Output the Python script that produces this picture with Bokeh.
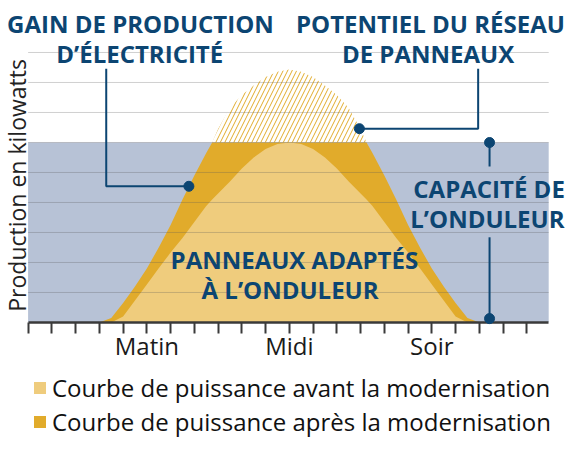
import math
from bokeh.plotting import figure
from bokeh.layouts import column
from bokeh.models import Range1d, FixedTicker, Label, Legend, LegendItem
from bokeh.embed import file_html
from bokeh.resources import INLINE

# ---------------- data ----------------
hours = [3.0, 3.5, 4.0, 4.5, 5.0, 5.5, 6.0, 6.5, 7.0, 7.5, 7.75,
         8.0, 8.5, 9.0, 9.5, 10.0, 10.5, 11.0, 11.5, 12.0, 12.5, 13.0, 13.5, 14.0,
         14.25, 14.5, 15.0, 15.5, 16.0, 16.5, 17.0, 17.5, 18.0, 18.5, 19.0]
potential = [0.0, 0.15, 0.65, 1.2, 1.8, 2.5, 3.25, 4.1, 4.9, 5.65, 6.0,
             6.45, 7.15, 7.58, 7.9, 8.18, 8.36, 8.43, 8.36, 8.18, 7.9, 7.58, 7.15, 6.45,
             6.0, 5.65, 4.9, 4.1, 3.25, 2.5, 1.8, 1.2, 0.65, 0.15, 0.0]
after = [0.0, 0.15, 0.65, 1.2, 1.8, 2.5, 3.25, 4.1, 4.9, 5.65, 6.0,
         6.0, 6.0, 6.0, 6.0, 6.0, 6.0, 6.0, 6.0, 6.0, 6.0, 6.0, 6.0, 6.0,
         6.0, 5.65, 4.9, 4.1, 3.25, 2.5, 1.8, 1.2, 0.65, 0.15, 0.0]
before = [0.0, 0.0, 0.2, 0.73, 1.27, 1.81, 2.33, 2.82, 3.35, 3.88, 4.1,
          4.3, 4.7, 5.13, 5.5, 5.78, 5.95, 6.0, 5.95, 5.78, 5.5, 5.13, 4.7, 4.3,
          4.1, 3.88, 3.35, 2.82, 2.33, 1.81, 1.27, 0.73, 0.2, 0.0, 0.0]
inverter_capacity = 6.0
hour_ticks = list(range(22))
tick_names = {5: "Matin", 11: "Midi", 17: "Soir"}
grid_levels = [1, 2, 3, 4, 5, 6, 7, 8, 9]
legend_labels = ["Courbe de puissance avant la modernisation",
                 "Courbe de puissance après la modernisation"]

# ---------------- style ----------------
BLUE = "#b7c2d6"
LIGHT = "#efcc7d"
DARK = "#e1ab2b"
NAVY = "#0c4572"
FONT = "Open Sans"
XMIN, XMAX = 0.0, 21.92
VIEW_X = (-1.162, 23.091)
VIEW_Y = (0.0, 10.733)
W = 576
H_TOP = 366
H_LEG = 85

p = figure(width=W, height=H_TOP, x_range=Range1d(*VIEW_X), y_range=Range1d(*VIEW_Y),
           output_backend="svg", toolbar_location=None,
           min_border_left=0, min_border_right=0, min_border_top=0, min_border_bottom=44)
p.outline_line_color = None
p.background_fill_color = "white"
p.border_fill_color = "white"

p.quad(left=XMIN, right=XMAX, bottom=0, top=inverter_capacity, fill_color=BLUE, line_color=None)
dark = p.varea(x=hours, y1=0, y2=after, fill_color=DARK)
light = p.varea(x=hours, y1=0, y2=before, fill_color=LIGHT)
p.varea(x=hours, y1=after, y2=potential, fill_color=None, fill_alpha=0,
        hatch_pattern="/", hatch_color=DARK, hatch_scale=9, hatch_weight=1)

# horizontal grid lines (drawn over the areas)
p.xgrid.visible = False
p.ygrid.visible = False
p.segment(x0=[XMIN] * len(grid_levels), x1=[XMAX] * len(grid_levels),
          y0=grid_levels, y1=grid_levels, line_color="#5a5a5a", line_alpha=0.28, line_width=1)

# axes
p.yaxis.visible = False
ax = p.xaxis[0]
ax.bounds = (XMIN, XMAX)
ax.ticker = FixedTicker(ticks=hour_ticks)
ax.major_label_overrides = {t: tick_names.get(t, "") for t in hour_ticks}
ax.axis_line_color = "#3a3a3a"
ax.axis_line_width = 2.5
ax.major_tick_line_color = "#3a3a3a"
ax.major_tick_line_width = 2
ax.major_tick_out = 11
ax.major_tick_in = 0
ax.minor_tick_line_color = None
ax.major_label_text_font = FONT
ax.major_label_text_font_size = "24px"
ax.major_label_text_color = "#1a1a1a"
ax.major_label_standoff = -5

# leader lines and dots
def leader(xs, ys):
    p.line(x=xs, y=ys, line_color=NAVY, line_width=2, level="annotation")

leader([3.29, 3.29, 6.77], [8.46, 4.54, 4.54])
leader([18.95, 18.95, 13.95], [8.46, 6.46, 6.46])
leader([19.43, 19.43], [6.0, 5.2])
leader([19.43, 19.43], [2.84, 0.13])
p.scatter(x=[6.77, 13.95, 19.43, 19.43], y=[4.54, 6.46, 6.0, 0.13], size=10,
          color=NAVY, level="annotation")

# annotation texts
def note(x, y, txt):
    p.add_layout(Label(x=x, y=y, text=txt, text_align="center", text_baseline="alphabetic",
                       text_font=FONT, text_font_style="bold", text_font_size="24px",
                       text_color=NAVY))

note(4.73, 9.96, "GAIN DE PRODUCTION")
note(4.70, 8.96, "D’ÉLECTRICITÉ")
note(16.94, 9.96, "POTENTIEL DU RÉSEAU")
note(16.84, 8.96, "DE PANNEAUX")
note(19.41, 4.48, "CAPACITÉ DE")
note(19.34, 3.48, "L’ONDULEUR")
note(11.21, 2.09, "PANNEAUX ADAPTÉS")
note(11.03, 1.09, "À L’ONDULEUR")

p.add_layout(Label(x=-0.47, y=4.57, text="Production en kilowatts", angle=math.pi / 2,
                   text_align="center", text_baseline="alphabetic",
                   text_font=FONT, text_font_size="23px", text_color="#222222"))

# ---------------- legend strip ----------------
q = figure(width=W, height=H_LEG, x_range=Range1d(0, 1), y_range=Range1d(0, 1),
           output_backend="svg", toolbar_location=None,
           min_border_left=0, min_border_right=0, min_border_top=0, min_border_bottom=0)
q.axis.visible = False
q.grid.visible = False
q.outline_line_color = None
q.border_fill_color = "white"
sw_light = q.varea(x=[0, 1], y1=[0, 0], y2=[0, 0], fill_color=LIGHT)
sw_dark = q.varea(x=[0, 1], y1=[0, 0], y2=[0, 0], fill_color=DARK)
legend = Legend(items=[LegendItem(label=legend_labels[0], renderers=[sw_light]),
                       LegendItem(label=legend_labels[1], renderers=[sw_dark])],
                location=(32, 13), orientation="vertical",
                glyph_width=15, glyph_height=15, label_standoff=5,
                label_text_font=FONT, label_text_font_size="24px", label_text_color="#111111",
                label_height=26, spacing=1, padding=0, margin=0,
                border_line_color=None, background_fill_alpha=0)
q.add_layout(legend)

open("out.html", "w").write(file_html(column(p, q), INLINE))
